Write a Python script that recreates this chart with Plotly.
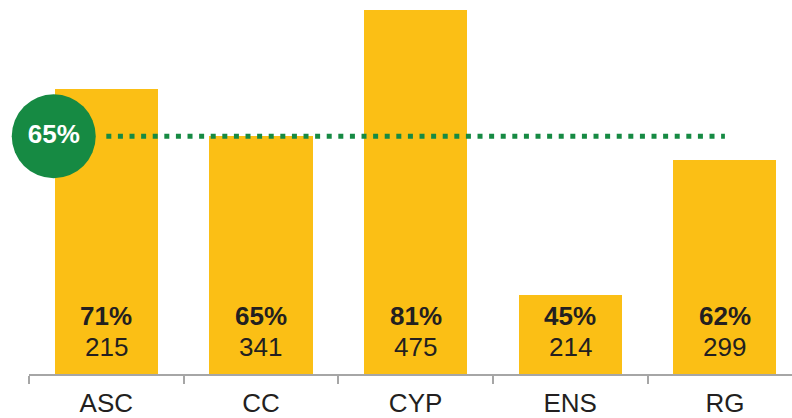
import plotly.graph_objects as go

categories = ["ASC", "CC", "CYP", "ENS", "RG"]
percent = [71, 65, 81, 45, 62]
counts = [215, 341, 475, 214, 299]
target = 65
target_label = "65%"

BAR = "#FBBF15"
GREEN = "#168A43"
TEXT = "#231F20"
AXIS = "#A6A6A6"
FONT = "Liberation Sans, Arial, sans-serif"

x = list(range(len(categories)))

fig = go.Figure()
fig.add_trace(go.Bar(x=x, y=percent, width=0.667, marker=dict(color=BAR, line=dict(width=0)),
                     hoverinfo="skip", showlegend=False))

# target dotted line from first to last category center
fig.add_shape(type="line", xref="x", yref="y", x0=x[0], x1=x[-1], y0=target, y1=target,
              line=dict(color=GREEN, width=5, dash="5px,6.6px"), layer="above")

# target badge
fig.add_trace(go.Scatter(x=[-0.34], y=[target], mode="markers+text", text=[f"<b>{target_label}</b>"],
                         textposition="middle center",
                         textfont=dict(family=FONT, size=26, color="white"),
                         marker=dict(size=84, color=GREEN, line=dict(width=0)),
                         cliponaxis=False, hoverinfo="skip", showlegend=False))

for xi, p, c in zip(x, percent, counts):
    fig.add_annotation(x=xi, y=35, xref="x", yref="y", text=f"<b>{p}%</b>", showarrow=False,
                       yanchor="middle", yshift=58, font=dict(family=FONT, size=26, color=TEXT))
    fig.add_annotation(x=xi, y=35, xref="x", yref="y", text=f"{c}", showarrow=False,
                       yanchor="middle", yshift=27, font=dict(family=FONT, size=26, color=TEXT))

fig.update_layout(
    width=792, height=418,
    margin=dict(l=29, r=0, t=0, b=44),
    plot_bgcolor="white", paper_bgcolor="white",
    bargap=0,
    xaxis=dict(range=[-0.5, 4.434], tickvals=x, ticktext=categories, ticks="",
               ticklabelstandoff=5, automargin=False,
               showline=True, linecolor=AXIS, linewidth=2, showgrid=False, zeroline=False,
               tickfont=dict(family=FONT, size=26, color=TEXT),
               minor=dict(tickvals=[-0.5, 0.5, 1.5, 2.5, 3.5, 4.5], ticks="outside", ticklen=8,
                          tickcolor=AXIS, tickwidth=2, showgrid=False)),
    yaxis=dict(range=[35, 82.2], visible=False, showgrid=False, zeroline=False, automargin=False),
)

fig.write_html("out.html")
